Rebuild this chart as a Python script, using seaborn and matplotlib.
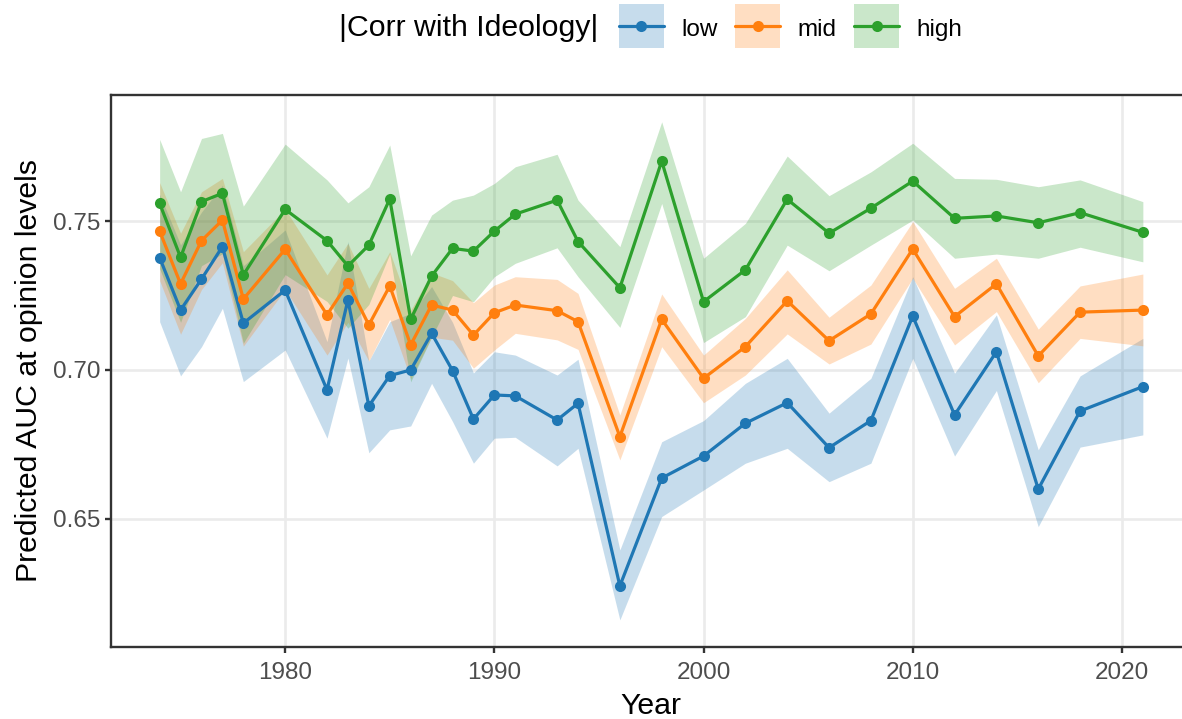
import numpy as np
import pandas as pd
import matplotlib
matplotlib.use("Agg")
import matplotlib.pyplot as plt
from matplotlib.patches import Patch, Rectangle
from matplotlib.lines import Line2D
from matplotlib.legend_handler import HandlerPatch
import seaborn as sns

# ---------------- data ----------------
years = [1974, 1975, 1976, 1977, 1978, 1980, 1982, 1983, 1984, 1985, 1986, 1987,
         1988, 1989, 1990, 1991, 1993, 1994, 1996, 1998, 2000, 2002, 2004, 2006,
         2008, 2010, 2012, 2014, 2016, 2018, 2021]

groups = ["low", "mid", "high"]

low_auc = [0.7377, 0.7201, 0.7305, 0.7414, 0.7157, 0.7268, 0.6933, 0.7235, 0.6879, 0.6981,
           0.7000, 0.7123, 0.6998, 0.6835, 0.6916, 0.6913, 0.6832, 0.6888, 0.6275, 0.6637,
           0.6711, 0.6821, 0.6890, 0.6739, 0.6830, 0.7181, 0.6849, 0.7061, 0.6600, 0.6862, 0.6944]
low_lo = [0.7162, 0.6980, 0.7078, 0.7207, 0.6961, 0.7067, 0.6771, 0.7040, 0.6722, 0.6799,
          0.6812, 0.6955, 0.6827, 0.6687, 0.6771, 0.6774, 0.6678, 0.6737, 0.6161, 0.6508,
          0.6597, 0.6687, 0.6737, 0.6625, 0.6687, 0.7039, 0.6711, 0.6931, 0.6474, 0.6741, 0.6782]
low_hi = [0.7590, 0.7420, 0.7530, 0.7620, 0.7350, 0.7470, 0.7095, 0.7431, 0.7030, 0.7162,
          0.7190, 0.7280, 0.7160, 0.6990, 0.7061, 0.7050, 0.6983, 0.7036, 0.6396, 0.6759,
          0.6830, 0.6955, 0.7039, 0.6855, 0.6972, 0.7313, 0.6989, 0.7185, 0.6732, 0.6980, 0.7106]

mid_auc = [0.7466, 0.7289, 0.7434, 0.7503, 0.7238, 0.7405, 0.7185, 0.7291, 0.7151, 0.7282,
           0.7084, 0.7218, 0.7201, 0.7117, 0.7192, 0.7218, 0.7199, 0.7162, 0.6776, 0.7170,
           0.6972, 0.7078, 0.7232, 0.7098, 0.7188, 0.7406, 0.7179, 0.7289, 0.7047, 0.7194, 0.7201]
mid_lo = [0.7300, 0.7120, 0.7270, 0.7360, 0.7080, 0.7270, 0.7050, 0.7160, 0.7030, 0.7170,
          0.6970, 0.7110, 0.7100, 0.7006, 0.7067, 0.7123, 0.7101, 0.7069, 0.6698, 0.7078,
          0.6890, 0.6983, 0.7121, 0.7020, 0.7087, 0.7308, 0.7084, 0.7196, 0.6957, 0.7106, 0.7081]
mid_hi = [0.7629, 0.7459, 0.7598, 0.7643, 0.7397, 0.7540, 0.7319, 0.7425, 0.7274, 0.7397,
          0.7200, 0.7326, 0.7300, 0.7226, 0.7285, 0.7313, 0.7304, 0.7257, 0.6849, 0.7255,
          0.7050, 0.7173, 0.7336, 0.7177, 0.7285, 0.7498, 0.7274, 0.7375, 0.7137, 0.7282, 0.7322]

high_auc = [0.7559, 0.7378, 0.7565, 0.7593, 0.7319, 0.7539, 0.7434, 0.7349, 0.7419, 0.7574,
            0.7170, 0.7315, 0.7408, 0.7399, 0.7466, 0.7523, 0.7570, 0.7431, 0.7276, 0.7701,
            0.7229, 0.7336, 0.7573, 0.7459, 0.7543, 0.7634, 0.7509, 0.7517, 0.7494, 0.7528, 0.7462]
high_lo = [0.7340, 0.7160, 0.7350, 0.7390, 0.7090, 0.7320, 0.7230, 0.7140, 0.7220, 0.7390,
           0.6960, 0.7110, 0.7250, 0.7229, 0.7313, 0.7358, 0.7410, 0.7313, 0.7143, 0.7559,
           0.7092, 0.7179, 0.7419, 0.7333, 0.7419, 0.7503, 0.7375, 0.7389, 0.7375, 0.7412, 0.7363]
high_hi = [0.7774, 0.7598, 0.7777, 0.7794, 0.7550, 0.7758, 0.7638, 0.7561, 0.7615, 0.7755,
           0.7383, 0.7520, 0.7570, 0.7587, 0.7626, 0.7682, 0.7724, 0.7570, 0.7414, 0.7833,
           0.7375, 0.7492, 0.7718, 0.7585, 0.7665, 0.7761, 0.7643, 0.7640, 0.7615, 0.7638, 0.7565]

x_ticks = [1980, 1990, 2000, 2010, 2020]
y_ticks = [0.65, 0.70, 0.75]
y_tick_labels = ["0.65", "0.70", "0.75"]

colors = {"low": "#1f77b4", "mid": "#ff7f0e", "high": "#2ca02c"}

means = {"low": low_auc, "mid": mid_auc, "high": high_auc}
los = {"low": low_lo, "mid": mid_lo, "high": high_lo}
his = {"low": low_hi, "mid": mid_hi, "high": high_hi}

df = pd.concat([pd.DataFrame({"Year": years, "auc": means[g], "group": g}) for g in groups],
               ignore_index=True)

# ---------------- style ----------------
sns.set_theme(style="white")
plt.rcParams["font.family"] = ["Liberation Sans", "DejaVu Sans"]

TICK_FS = 17.5
TITLE_FS = 21.8
LW = 2.3
MS = 8.0

fig = plt.figure(figsize=(11.82, 7.19), dpi=100)
x0, x1 = 110.5, 1192.0
y0, y1 = 95.0, 647.0
ax = fig.add_axes([x0 / 1182, 1 - y1 / 719, (x1 - x0) / 1182, (y1 - y0) / 719])

for g in groups:
    ax.fill_between(years, los[g], his[g], color=colors[g], alpha=0.25, linewidth=0, zorder=1)

sns.lineplot(data=df, x="Year", y="auc", hue="group", hue_order=groups, palette=colors,
             marker="o", markersize=MS, markeredgewidth=0, linewidth=LW,
             errorbar=None, legend=False, ax=ax, zorder=3)

ax.set_xlim(1971.65, 2023.35)
ax.set_ylim(0.6070, 0.7923)
ax.set_xticks(x_ticks)
ax.set_xticklabels([str(t) for t in x_ticks])
ax.set_yticks(y_ticks)
ax.set_yticklabels(y_tick_labels)

ax.grid(True, color="#EBEBEB", linewidth=1.9, zorder=0)
ax.set_axisbelow(True)
for s in ax.spines.values():
    s.set_color("#333333")
    s.set_linewidth(1.7)

ax.tick_params(axis="both", which="major", length=4, width=1.7, color="#333333",
               labelcolor="#4D4D4D", labelsize=TICK_FS, left=True, bottom=True)
ax.tick_params(axis="x", pad=6.5)
ax.tick_params(axis="y", pad=3.5)

ax.set_xlabel("Year", fontsize=TITLE_FS, color="black", labelpad=6)
ax.set_ylabel("Predicted AUC at opinion levels", fontsize=TITLE_FS, color="black", labelpad=7)

# ---------------- legend ----------------
KEY_H = 44 * 72 / 100.0  # key box height in points


def centered_box(legend, orig_handle, xdescent, ydescent, width, height, fontsize):
    yc = (height - ydescent) / 2.0
    return Rectangle(xy=(-xdescent, yc - KEY_H / 2.0), width=width, height=KEY_H)


handles = []
for g in groups:
    p = Patch(facecolor=colors[g], alpha=0.25, edgecolor="none")
    l = Line2D([], [], color=colors[g], marker="o", markersize=MS, markeredgewidth=0, linewidth=LW)
    handles.append((p, l))

leg = fig.legend(handles, groups, loc="center left",
                 bbox_to_anchor=(619 / 1182, 1 - 28.5 / 719), ncol=3, frameon=False,
                 fontsize=TICK_FS, handlelength=1.85, handleheight=1.0,
                 handletextpad=0.7, columnspacing=0.74, borderpad=0, borderaxespad=0,
                 handler_map={Patch: HandlerPatch(patch_func=centered_box)})
for t in leg.get_texts():
    t.set_color("black")

fig.text(598 / 1182, 1 - 28 / 719, "|Corr with Ideology|", ha="right", va="center",
         fontsize=TITLE_FS, color="black")

fig.savefig("out.png", dpi=100)
